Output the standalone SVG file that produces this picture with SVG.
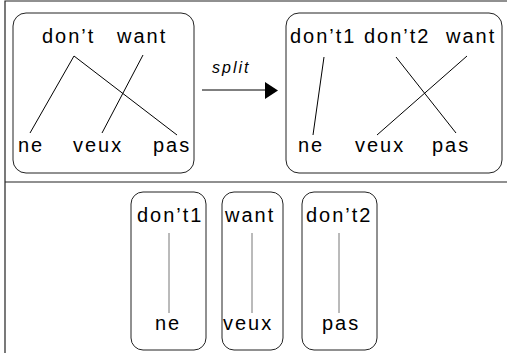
<svg xmlns="http://www.w3.org/2000/svg" width="507" height="353" viewBox="0 0 507 353">
<style>
.frame{fill:none;stroke:#222;stroke-width:1.2}
.box{fill:none;stroke:#222;stroke-width:1}
.t{font-family:"Liberation Sans",Arial,sans-serif;font-size:20px;letter-spacing:2px;fill:#000}
.e{stroke:#000;stroke-width:1;fill:none}
.g{stroke:#777;stroke-width:1;fill:none}
.lbl{font-family:"Liberation Sans",Arial,sans-serif;font-size:16px;font-style:italic;letter-spacing:2px;fill:#000}
</style>
<rect width="507" height="353" fill="#fff"/>
<g id="frame">
<path class="frame" d="M5,353 V1 H507 M5,182 H507"/>
</g>
<g id="left">
<rect class="box" x="13" y="13" width="181" height="160" rx="13"/>
<text class="t" x="42" y="43">don’t</text>
<text class="t" x="117" y="43">want</text>
<text class="t" x="18" y="152">ne</text>
<text class="t" x="73" y="152">veux</text>
<text class="t" x="153" y="152">pas</text>
</g>
<g id="right">
<rect class="box" x="286" y="13" width="216" height="160" rx="13"/>
<text class="t" x="290" y="43">don’t1</text>
<text class="t" x="364" y="43">don’t2</text>
<text class="t" x="446" y="43">want</text>
<text class="t" x="298" y="152">ne</text>
<text class="t" x="355" y="152">veux</text>
<text class="t" x="432" y="152">pas</text>
</g>
<g id="b1">
<rect class="box" x="131" y="192" width="75" height="158" rx="12"/>
<text class="t" x="137" y="222">don’t1</text>
<text class="t" x="155" y="330">ne</text>
</g>
<g id="b2">
<rect class="box" x="222" y="192" width="61" height="158" rx="12"/>
<text class="t" x="225" y="222">want</text>
<text class="t" x="223" y="330">veux</text>
</g>
<g id="b3">
<rect class="box" x="302" y="192" width="75" height="158" rx="12"/>
<text class="t" x="306" y="222">don’t2</text>
<text class="t" x="322" y="330">pas</text>
</g>
<g id="connectors">
<path class="e" d="M74,56 L30,133 M74,56 L177,135 M143,55 L102,133"/>
<path class="e" d="M324,57 L313,135 M396,57 L456,133 M467,56 L377,135"/>
<path class="g" d="M169,233 V313 M252,233 V313 M339,233 V313"/>
<path class="e" d="M202,90 H266"/>
<polygon points="265,82 278,90.5 265,99" fill="#000"/>
<text class="lbl" x="212" y="73">split</text>
</g>
</svg>
